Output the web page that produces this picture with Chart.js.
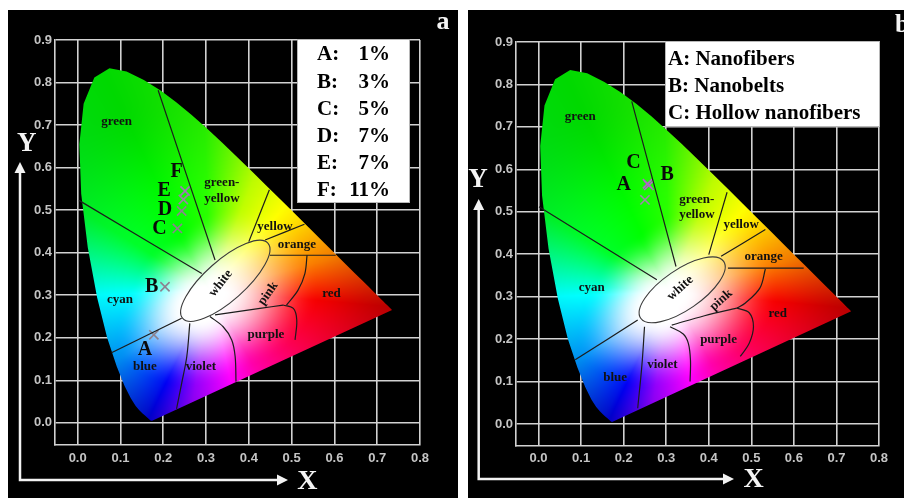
<!DOCTYPE html>
<html>
<head>
<meta charset="utf-8">
<script src="https://cdn.jsdelivr.net/npm/chart.js@4.4.1/dist/chart.umd.min.js"></script>
<style>
html, body { margin: 0; padding: 0; background: #fff; }
body { width: 904px; height: 498px; position: relative; overflow: hidden; }
canvas { position: absolute; background: #000; }
#chartA { left: 8px; top: 10px; }
#chartB { left: 468px; top: 10px; }
</style>
</head>
<body>
<canvas id="chartA" width="450" height="488"></canvas>
<canvas id="chartB" width="436" height="488"></canvas>
<script>
// ---------- data ----------
const xTicks = [0, 0.1, 0.2, 0.3, 0.4, 0.5, 0.6, 0.7, 0.8];
const yTicks = [0, 0.1, 0.2, 0.3, 0.4, 0.5, 0.6, 0.7, 0.8, 0.9];

// CIE 1931 spectral locus 380..700 nm
const locusX = [0.1741, 0.1740, 0.1738, 0.1736, 0.1733, 0.1730, 0.1726, 0.1721, 0.1714, 0.1703,
  0.1689, 0.1669, 0.1644, 0.1611, 0.1566, 0.1510, 0.1440, 0.1355, 0.1241, 0.1096, 0.0913, 0.0687,
  0.0454, 0.0235, 0.0082, 0.0039, 0.0139, 0.0389, 0.0743, 0.1142, 0.1547, 0.1929, 0.2296, 0.2658,
  0.3016, 0.3373, 0.3731, 0.4087, 0.4441, 0.4788, 0.5125, 0.5448, 0.5752, 0.6029, 0.6270, 0.6482,
  0.6658, 0.6801, 0.6915, 0.7006, 0.7079, 0.7140, 0.7190, 0.7230, 0.7260, 0.7300, 0.7320, 0.7334, 0.7347];
const locusY = [0.0050, 0.0050, 0.0049, 0.0049, 0.0048, 0.0048, 0.0048, 0.0048, 0.0051, 0.0058,
  0.0069, 0.0086, 0.0109, 0.0138, 0.0177, 0.0227, 0.0297, 0.0399, 0.0578, 0.0868, 0.1327, 0.2007,
  0.2950, 0.4127, 0.5384, 0.6548, 0.7502, 0.8120, 0.8338, 0.8262, 0.8059, 0.7816, 0.7543, 0.7243,
  0.6923, 0.6589, 0.6245, 0.5896, 0.5547, 0.5202, 0.4866, 0.4544, 0.4242, 0.3965, 0.3725, 0.3514,
  0.3340, 0.3197, 0.3083, 0.2993, 0.2920, 0.2859, 0.2809, 0.2770, 0.2740, 0.2700, 0.2680, 0.2666, 0.2653];

// panel a: doping series
const samplesA = ['A', 'B', 'C', 'D', 'E', 'F'];
const dopingA = [1, 3, 5, 7, 7, 11];
const sampleXA = [0.178, 0.204, 0.233, 0.243, 0.247, 0.251];
const sampleYA = [0.207, 0.320, 0.457, 0.498, 0.525, 0.545];

// panel b: morphologies
const samplesB = ['A', 'B', 'C'];
const morphB = ['Nanofibers', 'Nanobelts', 'Hollow nanofibers'];
const sampleXB = [0.250, 0.259, 0.256];
const sampleYB = [0.528, 0.562, 0.566];

// colour-region borders (x,y chromaticity)
const bordersA = [
  [[0.188, 0.782], [0.321, 0.383]],
  [[0.003, 0.523], [0.290, 0.351]],
  [[0.079, 0.165], [0.243, 0.246]],
  [[0.262, 0.234], [0.255, 0.156], [0.243, 0.093], [0.231, 0.033]],
  [[0.309, 0.250], [0.340, 0.226], [0.360, 0.195], [0.368, 0.156], [0.370, 0.097]],
  [[0.321, 0.254], [0.426, 0.269], [0.480, 0.277]],
  [[0.480, 0.277], [0.504, 0.269], [0.512, 0.242], [0.508, 0.195]],
  [[0.536, 0.394], [0.531, 0.351], [0.515, 0.312], [0.488, 0.277]],
  [[0.449, 0.394], [0.603, 0.394]],
  [[0.438, 0.430], [0.530, 0.467]],
  [[0.448, 0.548], [0.400, 0.426]]
];
const bordersB = [
  [[0.219, 0.760], [0.323, 0.371]],
  [[0.001, 0.512], [0.278, 0.340]],
  [[0.086, 0.151], [0.233, 0.245]],
  [[0.249, 0.229], [0.243, 0.140], [0.233, 0.037]],
  [[0.309, 0.229], [0.340, 0.212], [0.352, 0.190], [0.357, 0.150], [0.356, 0.100]],
  [[0.313, 0.233], [0.390, 0.255], [0.466, 0.273]],
  [[0.466, 0.273], [0.495, 0.262], [0.505, 0.229], [0.495, 0.190], [0.474, 0.159]],
  [[0.533, 0.365], [0.520, 0.320], [0.486, 0.285], [0.466, 0.273]],
  [[0.445, 0.367], [0.623, 0.367]],
  [[0.429, 0.395], [0.533, 0.458]],
  [[0.443, 0.546], [0.400, 0.399]]
];

const regionNames = ['green', 'green-\nyellow', 'yellow', 'orange', 'white', 'pink', 'red', 'cyan', 'purple', 'blue', 'violet'];

// ---------- layout / style ----------
const layoutA = {
  area: { left: 47, top: 30, right: 38, bottom: 53 },
  xMin: -0.053, yMin: -0.052, tickPadX: 6,
  borders: bordersA,
  sx: sampleXA, sy: sampleYA,
  crossColors: ['#8c8290', '#8c8290', '#8c8290', '#8c8290', '#9a84a4', '#a372bb'],
  letters: samplesA,
  letterPos: [[0.157, 0.171], [0.173, 0.320], [0.191, 0.455], [0.204, 0.500], [0.202, 0.545], [0.231, 0.590]],
  regionPos: [[0.091, 0.707], [0.337, 0.546], [0.461, 0.462], [0.512, 0.419], [0.334, 0.328], [0.445, 0.304],
    [0.593, 0.304], [0.099, 0.289], [0.440, 0.208], [0.157, 0.132], [0.288, 0.132]],
  regionRot: [0, 0, 0, 0, -52, -55, 0, 0, 0, 0, 0],
  ellipse: { c: [0.345, 0.334], end: [0.4445, 0.4225], minor: 0.047 },
  arrowX: 12, arrowTop: 152, arrowY: 470, arrowRight: 280,
  yTitle: [18.7, 134], xTitle: [299.3, 472], tag: 'a', tagPos: [435, 12], tagAlign: 'center',
  legendBox: [289, 29, 113, 164],
  legendRows: samplesA.map((s, i) => [s + ':', dopingA[i] + '%']),
  legendLeft: 309, legendRight: 382, legendY0: 45, legendDy: 27.2
};
const layoutB = {
  area: { left: 48, top: 32, right: 25, bottom: 52 },
  xMin: -0.053, yMin: -0.052, tickPadX: 5,
  borders: bordersB,
  sx: sampleXB, sy: sampleYB,
  crossColors: ['#a184ae', '#b264c8', '#b264c8'],
  letters: samplesB,
  letterPos: [[0.200, 0.564], [0.302, 0.587], [0.223, 0.616]],
  regionPos: [[0.098, 0.725], [0.372, 0.511], [0.476, 0.469], [0.529, 0.395], [0.333, 0.320], [0.429, 0.292],
    [0.562, 0.261], [0.125, 0.320], [0.423, 0.198], [0.180, 0.109], [0.291, 0.139]],
  regionRot: [0, 0, 0, 0, -42, -42, 0, 0, 0, 0, 0],
  ellipse: { c: [0.3375, 0.316], end: [0.435, 0.383], minor: 0.047 },
  arrowX: 10.7, arrowTop: 189, arrowY: 469, arrowRight: 266,
  yTitle: [10, 170], xTitle: [285.7, 470], tag: 'b', tagPos: [427, 15], tagAlign: 'left',
  legendBox: [197, 31, 215, 86],
  legendRows: samplesB.map((s, i) => [s + ': ' + morphB[i]]),
  legendLeft: 200, legendY0: 50, legendDy: 27
};

// stylised chromaticity colouring (angle around the white point -> hue)
const HUE_ANG = [-60, -34, -5, 15, 42, 69, 92, 116, 148, 182, 217, 242, 261, 300];
const HUE_VAL = [320, 340, 360, 390, 415, 435, 470, 480, 490, 540, 565, 595, 635, 680];
const SAT_ANG = [-60, -5, 27, 39, 84, 120, 175, 218, 263, 300];
const SAT_IN = [0.03, 0.05, 0.04, 0.04, 0.04, 0.03, 0.03, 0.05, 0.04, 0.03];
const SAT_OUT = [0.19, 0.27, 0.28, 0.28, 0.22, 0.17, 0.17, 0.24, 0.20, 0.19];
const DARK_ANG = [-60, -5, 40, 116, 182, 242, 300];
const DARK_VAL = [0.05, 0.3, 0, 0.15, 0.1, 0.45, 0.05];

function interp(a, xs, ys) {
  if (a <= xs[0]) return ys[0];
  for (let i = 1; i < xs.length; i++) {
    if (a <= xs[i]) {
      const t = (a - xs[i - 1]) / (xs[i] - xs[i - 1]);
      return ys[i - 1] + t * (ys[i] - ys[i - 1]);
    }
  }
  return ys[ys.length - 1];
}
function smooth(t) { t = Math.max(0, Math.min(1, t)); return t * t * (3 - 2 * t); }
function hsv2rgb(h, s, v) {
  h = ((h % 360) + 360) % 360 / 60;
  const i = Math.floor(h), f = h - i;
  const p = v * (1 - s), q = v * (1 - s * f), t = v * (1 - s * (1 - f));
  const m = [[v, t, p], [q, v, p], [p, v, t], [p, q, v], [t, p, v], [v, p, q]][i % 6];
  return m.map(c => Math.round(c * 255));
}
function chromaColor(x, y) {
  const dx = x - 0.31, dy = y - 0.31;
  let ang = Math.atan2(dy, dx) * 180 / Math.PI;
  if (ang < -60) ang += 360;
  const hue = interp(ang, HUE_ANG, HUE_VAL);
  const d = Math.hypot(x - 0.295, y - 0.285);
  const rin = interp(ang, SAT_ANG, SAT_IN), rout = interp(ang, SAT_ANG, SAT_OUT);
  const s = smooth((d - rin) / (rout - rin));
  const v = 1 - interp(ang, DARK_ANG, DARK_VAL) * smooth((Math.hypot(dx, dy) - 0.18) / 0.3);
  return hsv2rgb(hue, s, v);
}

// ---------- plugins ----------
const cieFill = {
  id: 'cieFill',
  beforeDatasetsDraw(chart) {
    const xs = chart.scales.x, ys = chart.scales.y, ctx = chart.ctx, ca = chart.chartArea;
    if (!chart.$cie) {
      const off = document.createElement('canvas');
      off.width = chart.width; off.height = chart.height;
      const octx = off.getContext('2d');
      const x0 = Math.floor(ca.left), y0 = Math.floor(ca.top);
      const w = Math.ceil(ca.right) - x0, h = Math.ceil(ca.bottom) - y0;
      const img = octx.createImageData(w, h);
      for (let j = 0; j < h; j++) {
        const yv = ys.getValueForPixel(y0 + j + 0.5);
        for (let i = 0; i < w; i++) {
          const xv = xs.getValueForPixel(x0 + i + 0.5);
          const c = chromaColor(xv, yv), k = (j * w + i) * 4;
          img.data[k] = c[0]; img.data[k + 1] = c[1]; img.data[k + 2] = c[2]; img.data[k + 3] = 255;
        }
      }
      octx.putImageData(img, x0, y0);
      chart.$cie = off;
    }
    ctx.save();
    ctx.beginPath();
    locusX.forEach((v, i) => {
      const px = xs.getPixelForValue(v), py = ys.getPixelForValue(locusY[i]);
      if (i) ctx.lineTo(px, py); else ctx.moveTo(px, py);
    });
    ctx.closePath();
    ctx.clip();
    ctx.drawImage(chart.$cie, 0, 0);
    ctx.restore();
  }
};

function drawText(ctx, str, x, y, font, color, align, rot) {
  ctx.save();
  ctx.translate(x, y);
  if (rot) ctx.rotate(rot * Math.PI / 180);
  ctx.font = font;
  ctx.fillStyle = color;
  ctx.textAlign = align || 'center';
  ctx.textBaseline = 'middle';
  const lines = str.split('\n');
  lines.forEach((ln, i) => ctx.fillText(ln, 0, (i - (lines.length - 1) / 2) * 15.5));
  ctx.restore();
}

const overlay = {
  id: 'overlay',
  afterDatasetsDraw(chart, args, opts) {
    const L = opts.layout, xs = chart.scales.x, ys = chart.scales.y, ctx = chart.ctx;
    const P = (p) => [xs.getPixelForValue(p[0]), ys.getPixelForValue(p[1])];
    // white ellipse
    const c = P(L.ellipse.c), e = P(L.ellipse.end);
    const ra = Math.hypot(e[0] - c[0], e[1] - c[1]);
    const rb = Math.abs(xs.getPixelForValue(L.ellipse.minor) - xs.getPixelForValue(0));
    ctx.save();
    ctx.beginPath();
    ctx.ellipse(c[0], c[1], ra, rb, Math.atan2(e[1] - c[1], e[0] - c[0]), 0, Math.PI * 2);
    ctx.strokeStyle = '#3a3a3a';
    ctx.lineWidth = 1.1;
    ctx.stroke();
    ctx.restore();
    // region names
    regionNames.forEach((n, i) => {
      const p = P(L.regionPos[i]);
      drawText(ctx, n, p[0], p[1], 'bold 13px "Liberation Serif", "Times New Roman", serif', '#111', 'center', L.regionRot[i]);
    });
    // sample letters
    L.letters.forEach((s, i) => {
      const p = P(L.letterPos[i]);
      drawText(ctx, s, p[0], p[1], 'bold 20px "Liberation Serif", "Times New Roman", serif', '#0a0a0a', 'center', 0);
    });
  },
  afterDraw(chart, args, opts) {
    const L = opts.layout, ctx = chart.ctx;
    const serif = '"Liberation Serif", "Times New Roman", serif';
    // legend box
    const [bx, by, bw, bh] = L.legendBox;
    ctx.save();
    ctx.fillStyle = '#fff';
    ctx.fillRect(bx, by, bw, bh);
    ctx.strokeStyle = '#b8b8b8';
    ctx.lineWidth = 1;
    ctx.strokeRect(bx + 0.5, by + 0.5, bw - 1, bh - 1);
    ctx.restore();
    L.legendRows.forEach((row, i) => {
      const y = L.legendY0 + i * L.legendDy;
      drawText(ctx, row[0], L.legendLeft, y, 'bold 21px ' + serif, '#000', 'left', 0);
      if (row[1]) drawText(ctx, row[1], L.legendRight, y, 'bold 21px ' + serif, '#000', 'right', 0);
    });
    // axis arrows
    ctx.save();
    ctx.strokeStyle = '#f2f2f2';
    ctx.fillStyle = '#f2f2f2';
    ctx.lineWidth = 2.5;
    ctx.beginPath();
    ctx.moveTo(L.arrowX, L.arrowTop + 8);
    ctx.lineTo(L.arrowX, L.arrowY);
    ctx.lineTo(L.arrowRight - 8, L.arrowY);
    ctx.stroke();
    ctx.beginPath();
    ctx.moveTo(L.arrowX, L.arrowTop);
    ctx.lineTo(L.arrowX - 5.5, L.arrowTop + 11);
    ctx.lineTo(L.arrowX + 5.5, L.arrowTop + 11);
    ctx.closePath();
    ctx.fill();
    ctx.beginPath();
    ctx.moveTo(L.arrowRight, L.arrowY);
    ctx.lineTo(L.arrowRight - 11, L.arrowY - 5.5);
    ctx.lineTo(L.arrowRight - 11, L.arrowY + 5.5);
    ctx.closePath();
    ctx.fill();
    ctx.restore();
    drawText(ctx, 'Y', L.yTitle[0], L.yTitle[1], 'bold 27px ' + serif, '#f4f4f4', 'center', 0);
    drawText(ctx, 'X', L.xTitle[0], L.xTitle[1], 'bold 28px ' + serif, '#f4f4f4', 'center', 0);
    drawText(ctx, L.tag, L.tagPos[0], L.tagPos[1], 'bold 26px ' + serif, '#f4f4f4', L.tagAlign, 0);
  }
};

// ---------- charts ----------
function makePanel(id, L) {
  const borderSets = L.borders.map(seg => ({
    data: seg.map(p => ({ x: p[0], y: p[1] })),
    showLine: true,
    borderColor: '#1c1c1c',
    borderWidth: 1.2,
    pointRadius: 0,
    tension: 0.35,
    fill: false
  }));
  const crossSet = {
    data: L.sx.map((x, i) => ({ x: x, y: L.sy[i] })),
    showLine: false,
    pointStyle: 'crossRot',
    pointRadius: 6.5,
    pointBorderWidth: 1.6,
    pointBorderColor: L.crossColors,
    pointBackgroundColor: L.crossColors
  };
  const grid = { color: '#d2d2d2', lineWidth: 1.6, drawTicks: false };
  const tickFont = { family: '"Liberation Sans", Arial, sans-serif', weight: 'bold', size: 13 };
  return new Chart(document.getElementById(id), {
    type: 'scatter',
    data: { datasets: [...borderSets, crossSet] },
    options: {
      responsive: false,
      devicePixelRatio: 1,
      animation: false,
      events: [],
      layout: { padding: { top: L.area.top, right: L.area.right, left: 0, bottom: 0 } },
      plugins: { legend: { display: false }, tooltip: { enabled: false }, overlay: { layout: L } },
      scales: {
        x: {
          type: 'linear', min: L.xMin, max: 0.8,
          afterBuildTicks: s => { s.ticks = xTicks.map(v => ({ value: v })); },
          afterFit: s => { s.height = L.area.bottom; },
          grid: grid,
          border: { color: '#d2d2d2', width: 1.6 },
          ticks: { color: '#c4c4c4', font: tickFont, padding: L.tickPadX, maxRotation: 0, autoSkip: false,
            callback: v => Number(v).toFixed(1) }
        },
        y: {
          type: 'linear', min: L.yMin, max: 0.9,
          afterBuildTicks: s => { s.ticks = yTicks.map(v => ({ value: v })); },
          afterFit: s => { s.width = L.area.left; },
          grid: grid,
          border: { color: '#d2d2d2', width: 1.6 },
          ticks: { color: '#c4c4c4', font: tickFont, padding: 3, autoSkip: false,
            callback: v => Number(v).toFixed(1) }
        }
      }
    },
    plugins: [cieFill, overlay]
  });
}

makePanel('chartA', layoutA);
makePanel('chartB', layoutB);
</script>
</body>
</html>
